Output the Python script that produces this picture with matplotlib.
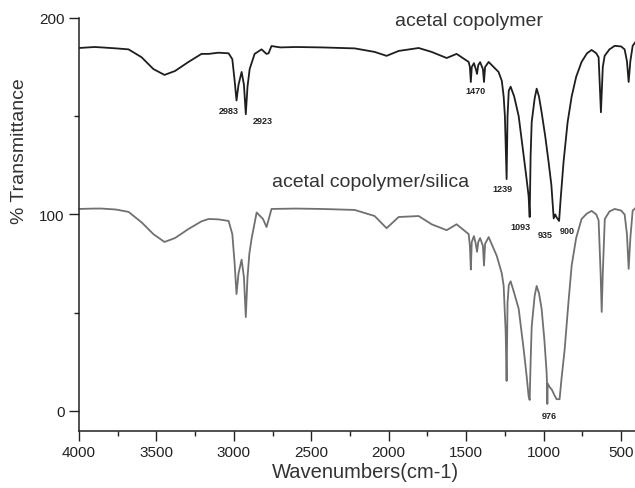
import matplotlib
matplotlib.use("Agg")
import matplotlib.pyplot as plt
from matplotlib.ticker import MultipleLocator

plt.rcParams['font.family'] = ['Liberation Sans', 'DejaVu Sans']

# acetal copolymer (upper trace)
top_wn = [4000, 3900, 3854, 3760, 3680, 3596, 3520, 3448, 3380, 3293, 3209, 3163,
          3100, 3034, 3010, 2995, 2983, 2970, 2950, 2935, 2923, 2912, 2898, 2866,
          2821, 2790, 2776, 2757, 2700, 2600, 2434, 2220, 2091, 2014, 1936, 1807,
          1723, 1626, 1562, 1484, 1476, 1470, 1464, 1450, 1438, 1430, 1422, 1410,
          1392, 1385, 1378, 1355, 1291, 1270, 1258, 1250, 1239, 1233, 1225, 1213,
          1190, 1161, 1129, 1110, 1097, 1090, 1084, 1077, 1058, 1045, 1030, 1013,
          990, 968, 950, 935, 925, 916, 900, 890, 871, 845, 819, 790, 755, 720,
          690, 660, 645, 630, 618, 606, 575, 541, 500, 477, 462, 451, 440, 425, 405]
top_val = [184.7, 185.2, 185, 184.5, 184, 180, 174, 171, 173, 177.6, 181.7, 181.7,
           182.3, 182, 179, 168, 158, 166, 172.5, 166, 151, 165, 174, 181.7,
           184, 181.7, 182, 185.7, 185, 185.2, 185, 184.5, 182.7, 180.7, 183.2, 184.7,
           182.7, 179.6, 181.7, 177.6, 175, 167.4, 175, 177, 174, 171.5, 176, 177.5,
           174, 167.4, 175, 177.6, 172.5, 168, 160, 150, 118, 150, 163, 165,
           160, 150, 130, 118, 109.4, 98.7, 130, 147, 159, 164, 160, 152,
           140, 126.7, 115, 98, 100, 98.5, 96.7, 108, 127, 147, 160, 170, 177.6, 182,
           183.7, 182, 180, 152, 175, 180.7, 184, 185.8, 185.5, 184, 178, 167.4, 178, 185.8, 188]

# acetal copolymer/silica (lower trace)
bot_wn = [4000, 3900, 3854, 3760, 3680, 3596, 3520, 3448, 3380, 3293, 3209, 3163,
          3100, 3034, 3010, 2995, 2983, 2970, 2950, 2935, 2923, 2912, 2900, 2886,
          2853, 2812, 2789, 2770, 2757, 2600, 2434, 2220, 2091, 2014, 1936, 1807,
          1723, 1626, 1562, 1484, 1476, 1470, 1464, 1450, 1438, 1430, 1422, 1410,
          1392, 1385, 1378, 1355, 1303, 1270, 1258, 1245, 1239, 1233, 1225, 1213,
          1190, 1161, 1129, 1110, 1097, 1090, 1084, 1077, 1058, 1045, 1030, 1013,
          995, 981, 978, 976, 974, 960, 948, 930, 916, 897, 885, 864, 840, 819,
          790, 755, 720, 690, 660, 645, 632, 625, 618, 605, 575, 541, 500, 477,
          462, 451, 440, 425, 412, 400]
bot_val = [102.8, 103, 103, 102.5, 101.3, 96, 90, 86, 88, 92.6, 96.5, 97.7,
           97.5, 96.7, 90, 75, 59.5, 70, 77, 68, 47.8, 68, 80, 87.5,
           101, 97.7, 93.6, 99, 102.8, 103, 102.8, 102.3, 99.2, 93, 98.7, 99.2,
           95, 92, 95, 90, 84, 72, 86, 89, 85, 81, 86, 88,
           84, 74, 85, 88.5, 79, 70, 63.6, 40, 15.3, 55, 64, 66,
           60, 52, 31.5, 18, 7.6, 5.6, 25, 43, 58.5, 63.6, 60, 52,
           36, 20, 14, 3.6, 14, 12, 11, 8, 6, 6, 16, 31.5, 55, 74,
           88, 97.7, 100.5, 101.8, 100, 97, 70, 50.4, 70, 97.7, 101.5, 102.8, 102, 100,
           90, 72.3, 88, 102, 102.8, 104]

# peak annotations: text, x (cm-1), y (%T)
peak_text = ['2983', '2923', '1470', '1239', '1093', '935', '900', '976']
peak_x = [3034, 2815, 1440, 1265, 1152, 990, 848, 961]
peak_y = [153, 148, 163, 113, 94, 90, 91.6, -2.5]

x_ticks = [4000, 3500, 3000, 2500, 2000, 1500, 1000, 500]
y_ticks = [0, 100, 200]

fig = plt.figure(figsize=(6.35, 4.89), dpi=100)
ax = fig.add_axes([0.1244, 0.1173, 0.8756, 0.844])

ax.plot(top_wn, top_val, color='#1e1e1e', lw=1.3)
ax.plot(bot_wn, bot_val, color='#707070', lw=1.3)

for t, x, y in zip(peak_text, peak_x, peak_y):
    ax.text(x, y, t, fontsize=6.5, fontweight='bold', ha='center', va='center',
            color='#222222')

ax.text(1484, 198.5, 'acetal copolymer', fontsize=14, ha='center', va='center',
        color='#333333')
ax.text(2117, 117, 'acetal copolymer/silica', fontsize=14, ha='center', va='center',
        color='#333333')

ax.set_xlim(4000, 410)
ax.set_ylim(-10, 200)
ax.set_xticks(x_ticks)
ax.set_yticks(y_ticks)
ax.xaxis.set_minor_locator(MultipleLocator(250))
ax.yaxis.set_minor_locator(MultipleLocator(50))
ax.tick_params(which='major', direction='out', length=7, width=1, labelsize=11,
               colors='#222222')
ax.tick_params(which='minor', direction='out', length=3.5, width=1, colors='#222222')

for s in ['top', 'right']:
    ax.spines[s].set_visible(False)
for s in ['left', 'bottom']:
    ax.spines[s].set_linewidth(1.1)
    ax.spines[s].set_color('#222222')

fig.text(20 / 635, 1 - 151 / 489, '% Transmittance', rotation=90, fontsize=14,
         ha='center', va='center', color='#333333')
fig.text(365 / 635, 1 - 473 / 489, 'Wavenumbers(cm-1)', fontsize=14.5,
         ha='center', va='center', color='#333333')

fig.savefig('out.png', dpi=100)
